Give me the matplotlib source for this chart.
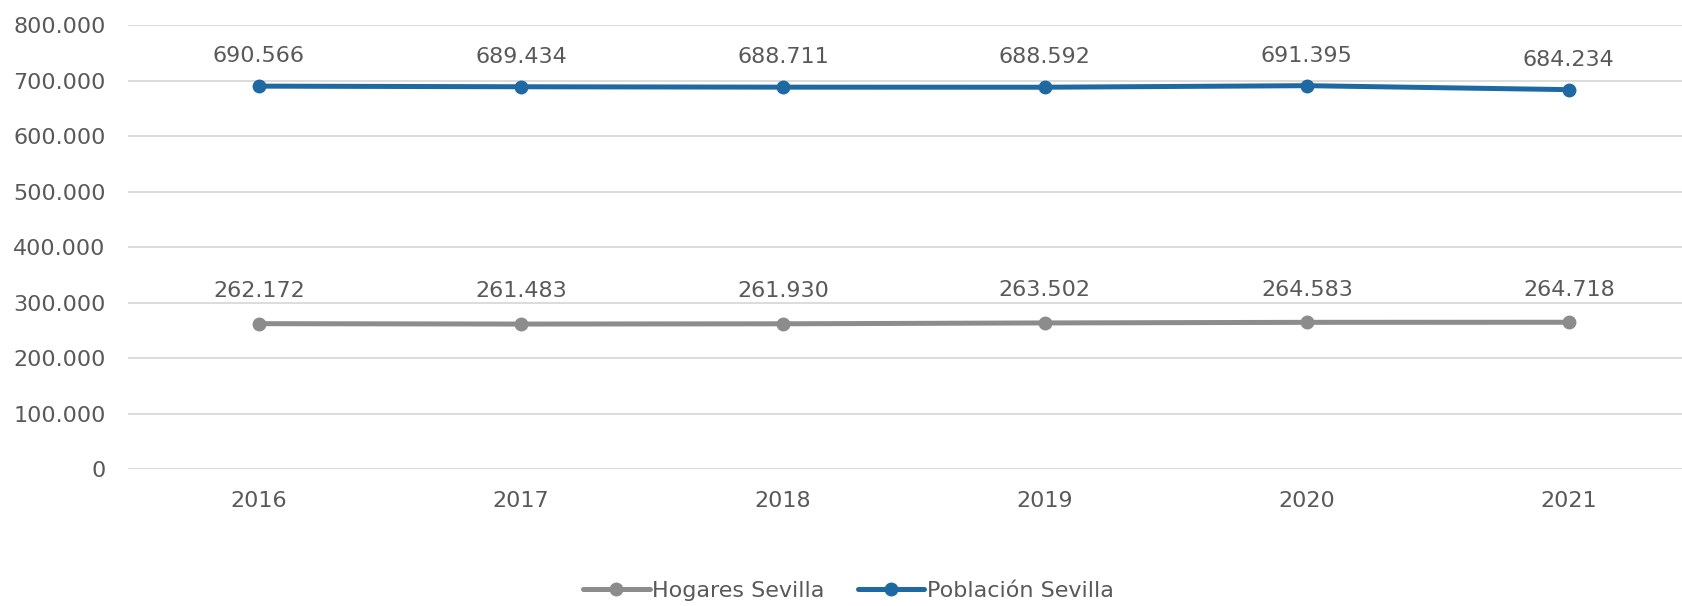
import matplotlib.pyplot as plt
from matplotlib.ticker import FuncFormatter

years = ["2016", "2017", "2018", "2019", "2020", "2021"]
hogares = [262172, 261483, 261930, 263502, 264583, 264718]
poblacion = [690566, 689434, 688711, 688592, 691395, 684234]

GRAY = "#8c8c8c"
BLUE = "#1f69a3"
TEXT = "#595959"

def fmt(v):
    return f"{v:,.0f}".replace(",", ".")

plt.rcParams["font.family"] = ["DejaVu Sans"]

fig = plt.figure(figsize=(16.83, 6.06), dpi=100)
ax = fig.add_axes([0.076, 0.226, 0.934, 0.732])

x = range(len(years))
ax.plot(x, hogares, color=GRAY, lw=3.6, marker="o", ms=9, solid_capstyle="round",
        label="Hogares Sevilla", zorder=3)
ax.plot(x, poblacion, color=BLUE, lw=3.6, marker="o", ms=9, solid_capstyle="round",
        label="Población Sevilla", zorder=3)

for i in x:
    ax.annotate(fmt(hogares[i]), (i, hogares[i]), xytext=(0, 23.5), textcoords="offset points",
                ha="center", va="center", fontsize=16, color=TEXT)
    ax.annotate(fmt(poblacion[i]), (i, poblacion[i]), xytext=(0, 21.5), textcoords="offset points",
                ha="center", va="center", fontsize=16, color=TEXT)

ax.set_xlim(-0.5, 5.5)
ax.set_ylim(0, 800000)
ax.set_yticks(range(0, 800001, 100000))
ax.yaxis.set_major_formatter(FuncFormatter(lambda v, p: fmt(v)))
ax.set_xticks(list(x))
ax.set_xticklabels(years)
ax.tick_params(axis="both", length=0, labelsize=16, labelcolor=TEXT)
ax.tick_params(axis="x", pad=16)
ax.tick_params(axis="y", pad=16)
ax.grid(axis="y", color="#d9d9d9", lw=1.3)
ax.set_axisbelow(True)
for s in ax.spines.values():
    s.set_visible(False)

leg = fig.legend(loc="center", bbox_to_anchor=(0.504, 0.025), ncol=2, frameon=False,
                 fontsize=16, handlelength=3.0, handletextpad=0.1, columnspacing=1.5)
for t in leg.get_texts():
    t.set_color(TEXT)

fig.savefig("out.png", dpi=100)
